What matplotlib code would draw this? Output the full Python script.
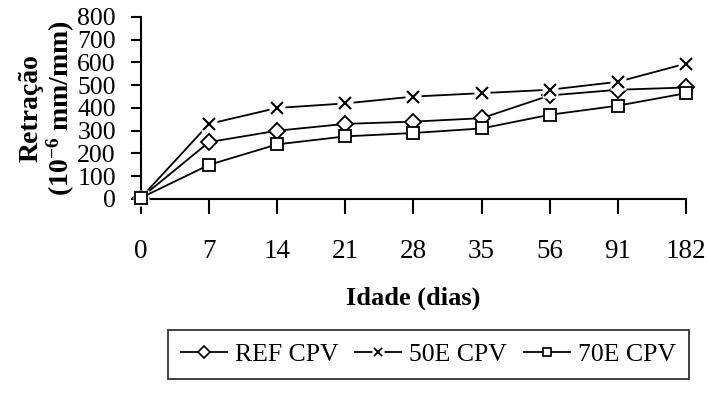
import numpy as np
import matplotlib
matplotlib.use("Agg")
import matplotlib.pyplot as plt
from matplotlib.lines import Line2D

plt.rcParams["font.family"] = ["Liberation Serif", "DejaVu Serif"]
plt.rcParams["mathtext.fontset"] = "custom"
plt.rcParams["mathtext.rm"] = "Liberation Serif"
plt.rcParams["mathtext.bf"] = "Liberation Serif:bold"

idade = ["0", "7", "14", "21", "28", "35", "56", "91", "182"]
ref_cpv = [5, 250, 300, 330, 340, 355, 455, 480, 490]
e50_cpv = [5, 330, 400, 420, 450, 465, 480, 515, 595]
e70_cpv = [5, 150, 240, 275, 290, 310, 370, 410, 465]

x = np.arange(len(idade))

fig = plt.figure(figsize=(7.08, 3.94), dpi=100)
ax = fig.add_axes([0.199, 0.495, 0.77, 0.462])

lw = 1.3
kw = dict(color="black", lw=lw, clip_on=False)
ax.plot(x, ref_cpv, marker="D", ms=8, mfc="white", mec="black", mew=1.3, zorder=3, **kw)
# 50E: line, white patch behind each cross, then the crosses
ax.plot(x, e50_cpv, zorder=3, **kw)
ax.plot(x, e50_cpv, ls="none", marker="s", ms=11, mfc="white", mec="none",
        clip_on=False, zorder=4)
ax.plot(x, e50_cpv, ls="none", marker="x", ms=9, mec="black", mew=1.5,
        clip_on=False, zorder=5)
ax.plot(x, e70_cpv, marker="s", ms=9, mfc="white", mec="black", mew=1.3, zorder=6, **kw)

ax.set_xlim(0, len(idade) - 1)
ax.set_ylim(0, 800)
ax.set_xticks(x)
ax.set_xticklabels(idade)
ax.set_yticks(np.arange(0, 801, 100))
for s in ("top", "right"):
    ax.spines[s].set_visible(False)
for s in ("left", "bottom"):
    ax.spines[s].set_linewidth(1.5)
ax.tick_params(axis="y", direction="out", length=7, width=1.5, pad=11, labelsize=18.5)
ax.tick_params(axis="x", direction="out", length=11, width=1.5, pad=18, labelsize=19.5)

ax.set_xlabel("Idade (dias)", fontsize=19, fontweight="bold", labelpad=16)
ax.set_ylabel("Retração\n(10$\\mathbf{^{-6}}$ mm/mm)", fontsize=20, fontweight="bold",
              linespacing=1.05, labelpad=0)
ax.yaxis.set_label_coords(-0.118, 0.5)

# legend proxies with the smaller legend markers
h_ref = Line2D([], [], color="black", lw=lw, marker="D", ms=6, mfc="white", mew=1.2)
h_50 = (Line2D([], [], color="black", lw=lw),
        Line2D([], [], ls="none", marker="s", ms=8, mfc="white", mec="none"),
        Line2D([], [], ls="none", marker="x", ms=6, mec="black", mew=1.3))
h_70 = Line2D([], [], color="black", lw=lw, marker="s", ms=6, mfc="white", mew=1.2)

leg = fig.legend([h_ref, h_50, h_70], ["REF CPV", "50E CPV", "70E CPV"],
                 loc="center", bbox_to_anchor=(0.605, 0.1), ncol=3, fontsize=18.5,
                 frameon=True, fancybox=False, edgecolor="black", handlelength=1.8,
                 handletextpad=0.3, columnspacing=0.65, borderpad=0.5,
                 borderaxespad=0)
leg.get_frame().set_linewidth(1.3)

fig.savefig("out.png", dpi=100)
